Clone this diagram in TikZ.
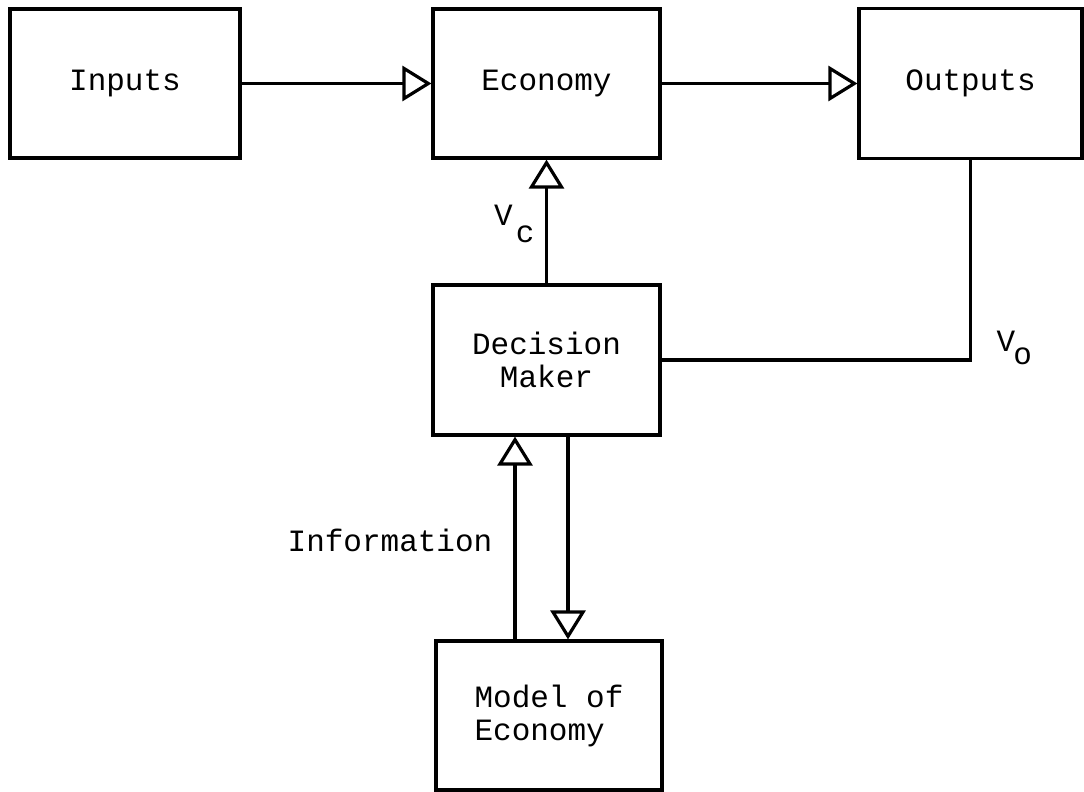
\documentclass[tikz,border=0pt]{standalone}
\usepackage{fontspec}
\setmonofont{Liberation Mono}
\usetikzlibrary{arrows.meta}
\newcommand\ttlab{\ttfamily\fontsize{31}{33}\selectfont}
\begin{document}
\begin{tikzpicture}[x=1pt,y=-1pt,
  box/.style={draw, line width=3.2pt, inner sep=0pt, font=\ttlab, align=center},
  lab/.style={font=\ttlab, inner sep=0pt},
  conn/.style={line width=3.2pt},
  arr/.style={conn, -{Triangle[open, length=29pt, width=35pt, line width=3.2pt]}}
]
\useasboundingbox (0,0) rectangle (1084,792);
\node[box, minimum width=230pt, minimum height=149pt] (inputs) at (125,83.5) {Inputs};
\node[box, minimum width=227pt, minimum height=149pt] (economy) at (546.5,83.5) {Economy};
\node[box, minimum width=223pt, minimum height=150pt] (outputs) at (970.5,83.5) {Outputs};
\node[box, minimum width=227pt, minimum height=150pt] (dm) at (546.5,360) {Decision\\Maker};
\node[box, minimum width=226pt, minimum height=149pt, align=left] (model) at (549,715.5) {Model of\\Economy};

\draw[arr] (inputs.east) -- (economy.west);
\draw[arr] (economy.east) -- (outputs.west);
\draw[arr] (dm.north) -- (economy.south);
\draw[conn] (outputs.south) |- (dm.east);
\draw[arr] ([xshift=-34pt]model.north) -- ([xshift=-34pt]model.north |- dm.south);
\draw[arr] ([xshift=19pt]model.north |- dm.south) -- ([xshift=19pt]model.north);

\node[lab, anchor=base west] (vc) at (494,225) {V\kern3pt\raisebox{-17pt}{c}};
\node[lab, anchor=base west] (vo) at (996.5,351) {V\kern-2pt\raisebox{-13.5pt}{o}};
\node[lab] (info) at (390,540) {Information};
\end{tikzpicture}
\end{document}
